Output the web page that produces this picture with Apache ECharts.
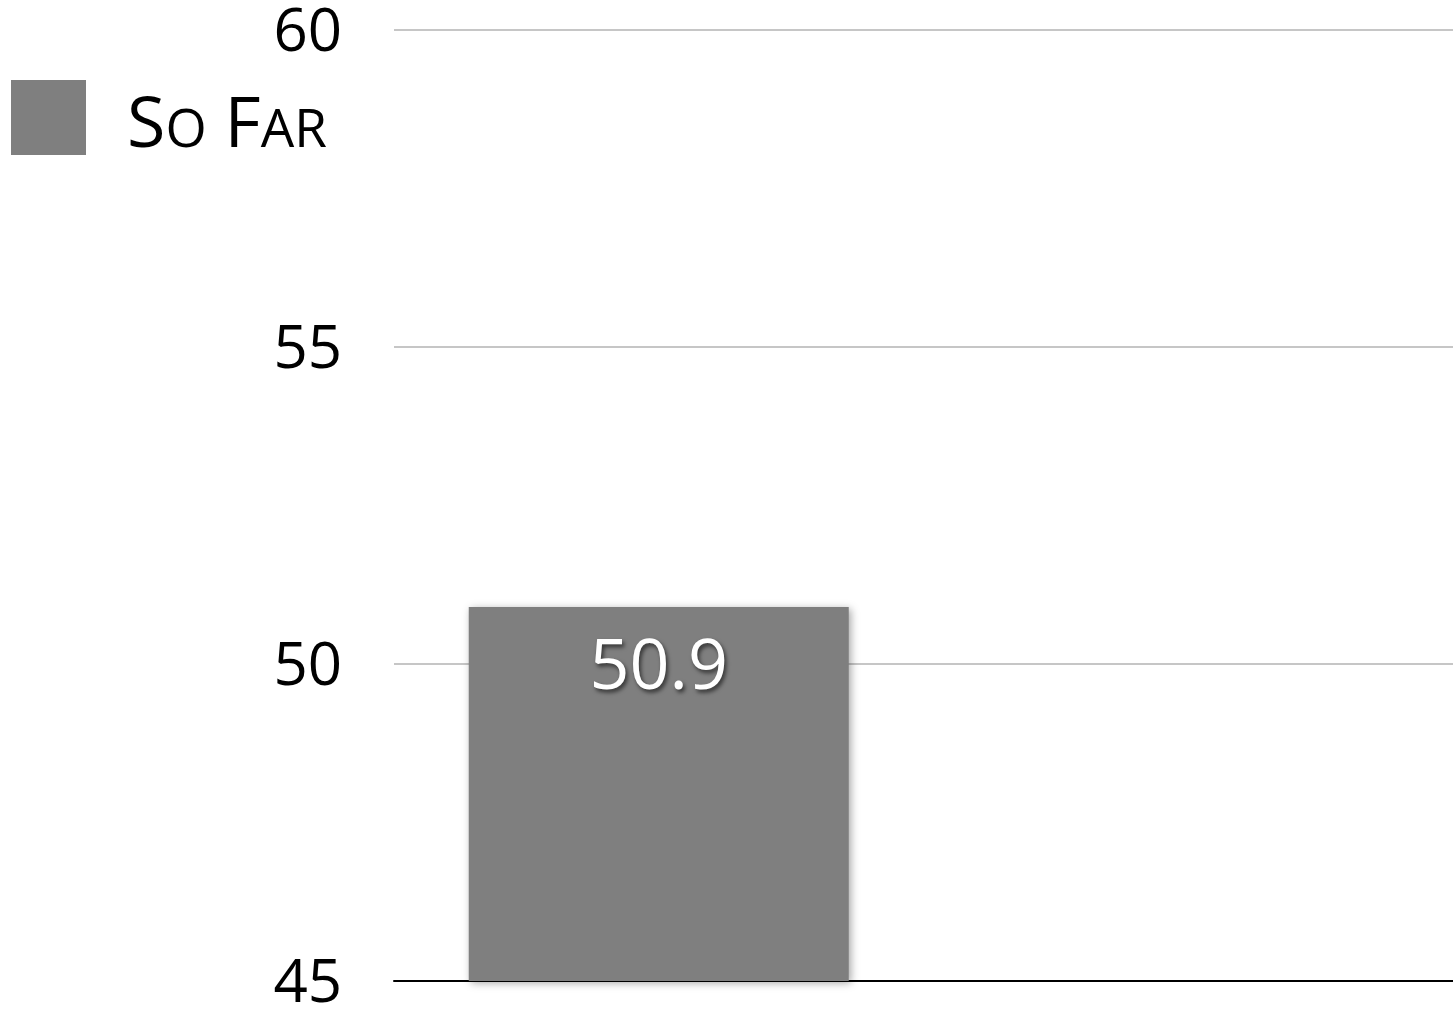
<!DOCTYPE html>
<html>
<head>
<meta charset="utf-8">
<script src="https://cdn.jsdelivr.net/npm/echarts@6/dist/echarts.min.js"></script>
<style>
  html, body { margin: 0; padding: 0; background: #fff; }
  #chart { width: 1453px; height: 1010px; }
</style>
</head>
<body>
<div id="chart"></div>
<script>
// Chart data
const categories = ['', ''];
const seriesName = 'So Far';
const soFarValues = [50.9, null];
const yTicks = [45, 50, 55, 60];

const chart = echarts.init(document.getElementById('chart'));

chart.setOption({
  animation: false,
  textStyle: { fontFamily: 'Open Sans' },
  legend: {
    left: 6,
    top: 75,
    icon: 'rect',
    itemWidth: 75,
    itemHeight: 75,
    itemGap: 20,
    data: [seriesName],
    // small-caps style legend text
    formatter: function () {
      return '{big|S}{small|O}{gap|\u00a0}{big|F}{small|AR}';
    },
    textStyle: {
      padding: [0, 0, 0, 36],
      rich: {
        big: { fontSize: 70, color: '#000', fontFamily: 'Open Sans', verticalAlign: 'bottom', lineHeight: 90 },
        small: { fontSize: 53, color: '#000', fontFamily: 'Open Sans', verticalAlign: 'bottom', lineHeight: 90, padding: [0, 0, 4, 0] },
        gap: { fontSize: 70, width: 18, verticalAlign: 'bottom', lineHeight: 90 }
      }
    }
  },
  grid: { left: 394, right: 0, top: 30, bottom: 29, containLabel: false, outerBoundsMode: 'none' },
  xAxis: {
    type: 'category',
    data: categories,
    axisLine: { show: true, lineStyle: { color: '#000', width: 2 } },
    axisTick: { show: false },
    axisLabel: { show: false }
  },
  yAxis: {
    type: 'value',
    min: yTicks[0],
    max: yTicks[yTicks.length - 1],
    interval: 5,
    startValue: yTicks[0],
    axisLine: { show: false },
    axisTick: { show: false },
    axisLabel: {
      margin: 52,
      formatter: '{v|{value}}',
      rich: {
        v: { color: '#000', fontSize: 60, fontFamily: 'Open Sans', lineHeight: 60, padding: [8, 0, 0, 0] }
      }
    },
    splitLine: { lineStyle: { color: '#b3b3b3', width: 1.5 } }
  },
  series: [{
    name: seriesName,
    type: 'bar',
    data: soFarValues,
    barWidth: 380,
    itemStyle: {
      color: '#7f7f7f',
      shadowColor: 'rgba(0,0,0,0.35)',
      shadowBlur: 8,
      shadowOffsetX: 2,
      shadowOffsetY: 2
    },
    label: {
      show: true,
      position: 'insideTop',
      distance: 27,
      color: '#fff',
      fontSize: 70,
      fontFamily: 'Open Sans',
      textShadowColor: 'rgba(0,0,0,0.6)',
      textShadowBlur: 4,
      textShadowOffsetX: 2,
      textShadowOffsetY: 3
    }
  }]
});
</script>
</body>
</html>
